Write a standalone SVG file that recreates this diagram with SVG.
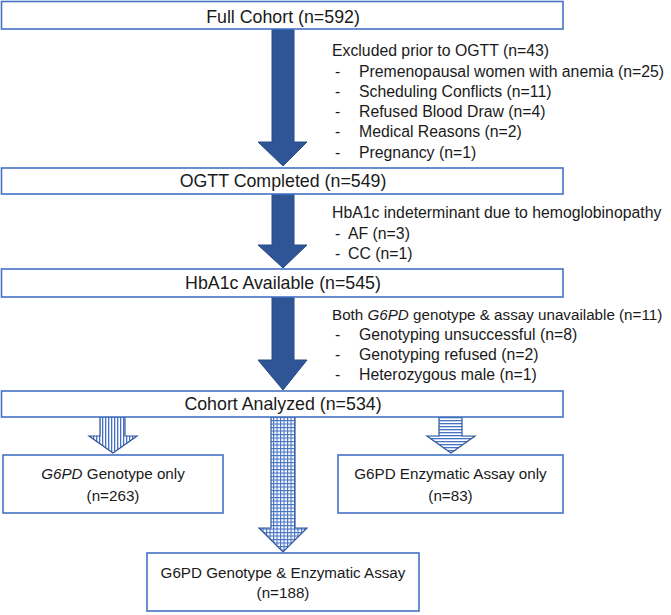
<svg xmlns="http://www.w3.org/2000/svg" width="671" height="615" viewBox="0 0 671 615">
<style>
.box{fill:#ffffff;stroke:#4472C4;stroke-width:1.6}
.t{font-family:"Liberation Sans",Arial,sans-serif;fill:#1a1a1a}
.title{font-size:17.8px;text-anchor:middle}
.sub{font-size:15.2px;text-anchor:middle}
.body{font-size:15.8px}
.note2{font-size:15.2px}
.solid{fill:#2F5597;stroke:#2B4C86;stroke-width:1}
.pat{stroke:#2F5597;stroke-width:1.2}
</style>
<defs>
<pattern id="vstripe" patternUnits="userSpaceOnUse" width="3" height="3">
<rect width="3" height="3" fill="#ffffff"/>
<rect x="0" y="0" width="1.3" height="3" fill="#4472C4"/>
</pattern>
<pattern id="hstripe" patternUnits="userSpaceOnUse" width="3" height="3">
<rect width="3" height="3" fill="#ffffff"/>
<rect x="0" y="0" width="3" height="1.3" fill="#4472C4"/>
</pattern>
<pattern id="grid" patternUnits="userSpaceOnUse" width="3.5" height="3.5">
<rect width="3.5" height="3.5" fill="#ffffff"/>
<rect x="0" y="0" width="1.1" height="3.5" fill="#4472C4"/>
<rect x="0" y="0" width="3.5" height="1.1" fill="#4472C4"/>
</pattern>
</defs>

<g id="connectors">
<polygon class="solid" points="272,29 294,29 294,142 307,142 283,166 258,142 272,142"/>
<polygon class="solid" points="272,194 294,194 294,245 307,245 283,268 258,245 272,245"/>
<polygon class="solid" points="272,297 294,297 294,360 307,360 283,390 258,360 272,360"/>
<polygon class="pat" fill="url(#vstripe)" points="100,417 125,417 125,436 137,436 113,453 89,436 100,436"/>
<polygon class="pat" fill="url(#grid)" points="271,417 295,417 295,528 307,528 283,552 259,528 271,528"/>
<polygon class="pat" fill="url(#hstripe)" points="439,417 462,417 462,436 475,436 451,453 427,436 439,436"/>
</g>

<g id="full-cohort">
<rect class="box" x="1.5" y="1.5" width="561.5" height="27.5"/>
<text class="t title" x="283" y="23">Full Cohort (n=592)</text>
</g>

<g id="excluded-note">
<text class="t body" x="332" y="56">Excluded prior to OGTT (n=43)</text>
<text class="t body" x="335" y="77">-</text><text class="t body" x="359" y="77">Premenopausal women with anemia (n=25)</text>
<text class="t body" x="335" y="97">-</text><text class="t body" x="359" y="97">Scheduling Conflicts (n=11)</text>
<text class="t body" x="335" y="117">-</text><text class="t body" x="359" y="117">Refused Blood Draw (n=4)</text>
<text class="t body" x="335" y="137">-</text><text class="t body" x="359" y="137">Medical Reasons (n=2)</text>
<text class="t body" x="335" y="158">-</text><text class="t body" x="359" y="158">Pregnancy (n=1)</text>
</g>

<g id="ogtt-completed">
<rect class="box" x="1.5" y="168" width="561.5" height="26"/>
<text class="t title" x="283" y="187">OGTT Completed (n=549)</text>
</g>

<g id="hba1c-note">
<text class="t body" x="332" y="218">HbA1c indeterminant due to hemoglobinopathy</text>
<text class="t body" x="335" y="239">-</text><text class="t body" x="348" y="239">AF (n=3)</text>
<text class="t body" x="335" y="259">-</text><text class="t body" x="348" y="259">CC (n=1)</text>
</g>

<g id="hba1c-available">
<rect class="box" x="1.5" y="269" width="561.5" height="28"/>
<text class="t title" x="283" y="289">HbA1c Available (n=545)</text>
</g>

<g id="g6pd-note">
<text class="t note2" x="332" y="320">Both <tspan font-style="italic">G6PD</tspan> genotype &amp; assay unavailable (n=11)</text>
<text class="t body" x="335" y="340">-</text><text class="t body" x="359" y="340">Genotyping unsuccessful (n=8)</text>
<text class="t body" x="335" y="360">-</text><text class="t body" x="359" y="360">Genotyping refused (n=2)</text>
<text class="t body" x="335" y="380">-</text><text class="t body" x="359" y="380">Heterozygous male (n=1)</text>
</g>

<g id="cohort-analyzed">
<rect class="box" x="1.5" y="391" width="561.5" height="26"/>
<text class="t title" x="283" y="410">Cohort Analyzed (n=534)</text>
</g>

<g id="genotype-only">
<rect class="box" x="3" y="455" width="220" height="58"/>
<text class="t sub" x="113" y="479"><tspan font-style="italic">G6PD</tspan> Genotype only</text>
<text class="t sub" x="113" y="501">(n=263)</text>
</g>

<g id="assay-only">
<rect class="box" x="338" y="455" width="225" height="58"/>
<text class="t sub" x="450.5" y="479">G6PD Enzymatic Assay only</text>
<text class="t sub" x="450.5" y="501">(n=83)</text>
</g>

<g id="genotype-and-assay">
<rect class="box" x="147" y="553" width="272" height="58"/>
<text class="t sub" x="283" y="578">G6PD Genotype &amp; Enzymatic Assay</text>
<text class="t sub" x="283" y="598">(n=188)</text>
</g>
</svg>
